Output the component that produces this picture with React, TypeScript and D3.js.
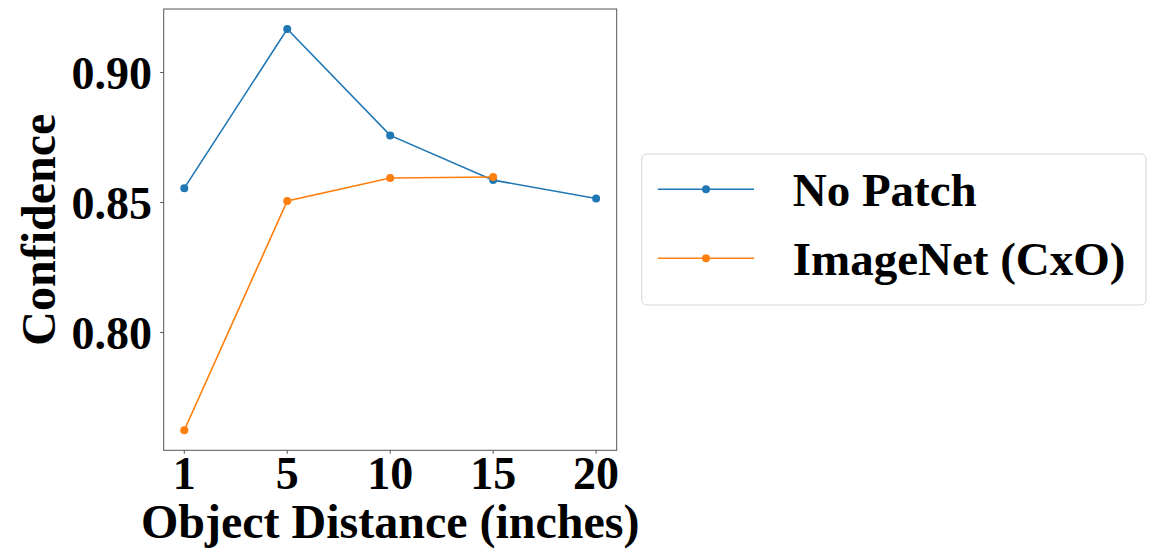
import React from "react";
import * as d3 from "d3";

const categories = ["1", "5", "10", "15", "20"];
const noPatch = [0.8555, 0.9167, 0.8758, 0.8586, 0.8515];
const imageNet = [0.7624, 0.8506, 0.8594, 0.8598];
const yTicks = [0.8, 0.85, 0.9];
const seriesNames = ["No Patch", "ImageNet (CxO)"];
const colors = ["#1f77b4", "#ff7f0e"];

const W = 1166, H = 551;
const plot = { left: 163.7, right: 616.7, top: 9, bottom: 450.3 };
const FONT = "'Liberation Serif', 'Times New Roman', serif";
const FS = 48;
const TICK_FS = 46;

export default function App() {
  const x = d3.scalePoint<string>().domain(categories).range([plot.left, plot.right]).padding(0.2);
  const all = [...noPatch, ...imageNet];
  const lo = d3.min(all)!, hi = d3.max(all)!;
  const pad = (hi - lo) * 0.05;
  const y = d3.scaleLinear().domain([lo - pad, hi + pad]).range([plot.bottom, plot.top]);
  const line = d3.line<number>().x((_, i) => x(categories[i])!).y((d) => y(d));
  const series = [noPatch, imageNet];

  return (
    <div style={{ position: "absolute", left: 0, top: 0 }}>
      <svg width={W} height={H} style={{ display: "block", background: "#fff" }}>
        {series.map((s, si) => (
          <g key={si}>
            <path d={line(s)!} fill="none" stroke={colors[si]} strokeWidth={1.6} />
            {s.map((v, i) => (
              <circle key={i} cx={x(categories[i])} cy={y(v)} r={4} fill={colors[si]} />
            ))}
          </g>
        ))}
        <rect x={plot.left} y={plot.top} width={plot.right - plot.left} height={plot.bottom - plot.top}
          fill="none" stroke="#555" strokeWidth={1} />
        {categories.map((c) => (
          <g key={c}>
            <line x1={x(c)} x2={x(c)} y1={plot.bottom} y2={plot.bottom + 3.5} stroke="#555" />
            <text x={x(c)} y={489} textAnchor="middle" fontFamily={FONT} fontWeight="bold" fontSize={TICK_FS}>{c}</text>
          </g>
        ))}
        {yTicks.map((t) => (
          <g key={t}>
            <line x1={plot.left - 3.5} x2={plot.left} y1={y(t)} y2={y(t)} stroke="#555" />
            <text x={152} y={y(t)} dy="0.35em" textAnchor="end" fontFamily={FONT} fontWeight="bold" fontSize={TICK_FS}>{t.toFixed(2)}</text>
          </g>
        ))}
        <text x={(plot.left + plot.right) / 2} y={538} textAnchor="middle" fontFamily={FONT} fontWeight="bold" fontSize={FS}>
          Object Distance (inches)
        </text>
        <text transform={`translate(55, ${(plot.top + plot.bottom) / 2}) rotate(-90)`} textAnchor="middle"
          fontFamily={FONT} fontWeight="bold" fontSize={FS}>Confidence</text>
        <rect x={641.7} y={154} width={1146 - 641.7} height={305 - 154} rx={5} fill="#fff" stroke="#d5d5d5" strokeWidth={1} />
        {seriesNames.map((n, i) => {
          const yy = 189.3 + i * 69;
          return (
            <g key={n}>
              <line x1={657.7} x2={754} y1={yy} y2={yy} stroke={colors[i]} strokeWidth={1.6} />
              <circle cx={706} cy={yy} r={4} fill={colors[i]} />
              <text x={792.7} y={yy} dy="0.35em" fontFamily={FONT} fontWeight="bold" fontSize={47}>{n}</text>
            </g>
          );
        })}
      </svg>
    </div>
  );
}
